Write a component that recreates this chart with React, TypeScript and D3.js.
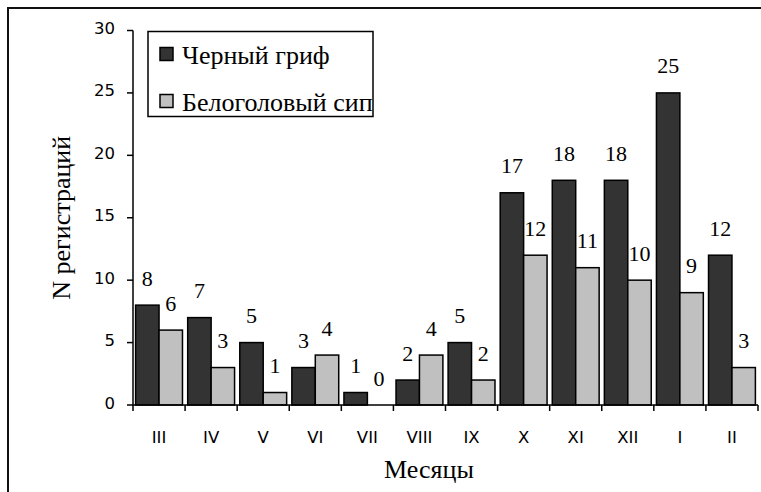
import React from "react";
import * as d3 from "d3";

const months = ["III", "IV", "V", "VI", "VII", "VIII", "IX", "X", "XI", "XII", "I", "II"];
const seriesNames = ["Черный гриф", "Белоголовый сип"];
const blackVulture = [8, 7, 5, 3, 1, 2, 5, 17, 18, 18, 25, 12];
const griffonVulture = [6, 3, 1, 4, 0, 4, 2, 12, 11, 10, 9, 3];
const yTicks = [0, 5, 10, 15, 20, 25, 30];
const colors = ["#333333", "#c0c0c0"];

const W = 761;
const H = 492;
const plot = { left: 133, right: 758, top: 30.5, bottom: 405 };

export default function App() {
  const series = [blackVulture, griffonVulture];
  const x0 = d3
    .scaleBand<string>()
    .domain(months)
    .range([plot.left, plot.right])
    .paddingInner(0.1)
    .paddingOuter(0.05);
  const x1 = d3
    .scaleBand<number>()
    .domain([0, 1])
    .range([0, x0.bandwidth()]);
  const y = d3.scaleLinear().domain([0, 30]).range([plot.bottom, plot.top]);
  const step = x0.step();
  const boundaries = d3.range(months.length + 1).map((i) => plot.left + i * step);

  const serif = "'Liberation Serif', 'Times New Roman', serif";
  const sans = "'DejaVu Sans', Verdana, sans-serif";

  return (
    <svg
      width={W}
      height={H}
      style={{ position: "absolute", left: 0, top: 0, background: "#fff" }}
    >
      <rect x={8} y={8} width={W} height={H} fill="#fff" stroke="#111" strokeWidth={2} />

      {/* bars */}
      {months.map((m, i) => (
        <g key={m}>
          {series.map((s, k) => {
            const v = s[i];
            const bx = (x0(m) as number) + (x1(k) as number);
            const bw = x1.bandwidth();
            return (
              <g key={k}>
                {v > 0 && (
                  <rect
                    x={bx}
                    y={y(v)}
                    width={bw}
                    height={y(0) - y(v)}
                    fill={colors[k]}
                    stroke="#000"
                    strokeWidth={1.5}
                  />
                )}
                <text
                  x={bx + bw / 2}
                  y={y(v) - 19.5}
                  textAnchor="middle"
                  fontFamily={serif}
                  fontSize={22}
                  fill="#000"
                >
                  {v}
                </text>
              </g>
            );
          })}
        </g>
      ))}

      {/* y axis */}
      <line x1={plot.left} x2={plot.left} y1={plot.top} y2={plot.bottom} stroke="#000" strokeWidth={1.5} />
      {yTicks.map((t) => (
        <g key={t}>
          <line x1={plot.left - 6} x2={plot.left} y1={y(t)} y2={y(t)} stroke="#000" strokeWidth={1.5} />
          <text
            x={115}
            y={y(t) + 3.5}
            textAnchor="end"
            fontFamily={sans}
            fontSize={16.5}
            fill="#000"
          >
            {t}
          </text>
        </g>
      ))}

      {/* x axis */}
      <line x1={plot.left} x2={plot.right} y1={plot.bottom} y2={plot.bottom} stroke="#000" strokeWidth={1.5} />
      {boundaries.map((bx, i) => (
        <line key={i} x1={bx} x2={bx} y1={plot.bottom} y2={plot.bottom + 6} stroke="#000" strokeWidth={1.5} />
      ))}
      {months.map((m) => (
        <text
          key={m}
          x={(x0(m) as number) + x0.bandwidth() / 2}
          y={443}
          textAnchor="middle"
          fontFamily={sans}
          fontSize={16.5}
          fill="#000"
        >
          {m}
        </text>
      ))}

      {/* axis titles */}
      <text x={429} y={478} textAnchor="middle" fontFamily={serif} fontSize={26} fill="#000">
        Месяцы
      </text>
      <text
        transform={`translate(70, ${(plot.top + plot.bottom) / 2}) rotate(-90)`}
        textAnchor="middle"
        fontFamily={serif}
        fontSize={26}
        fill="#000"
      >
        N регистраций
      </text>

      {/* legend */}
      <rect x={148} y={31.5} width={225} height={85} fill="#fff" stroke="#000" strokeWidth={1.5} />
      {seriesNames.map((name, k) => (
        <g key={name}>
          <rect
            x={160}
            y={47.5 + k * 47}
            width={13}
            height={13}
            fill={colors[k]}
            stroke="#000"
            strokeWidth={1.5}
          />
          <text x={182} y={64 + k * 46.5} fontFamily={serif} fontSize={26} fill="#000">
            {name}
          </text>
        </g>
      ))}
    </svg>
  );
}
